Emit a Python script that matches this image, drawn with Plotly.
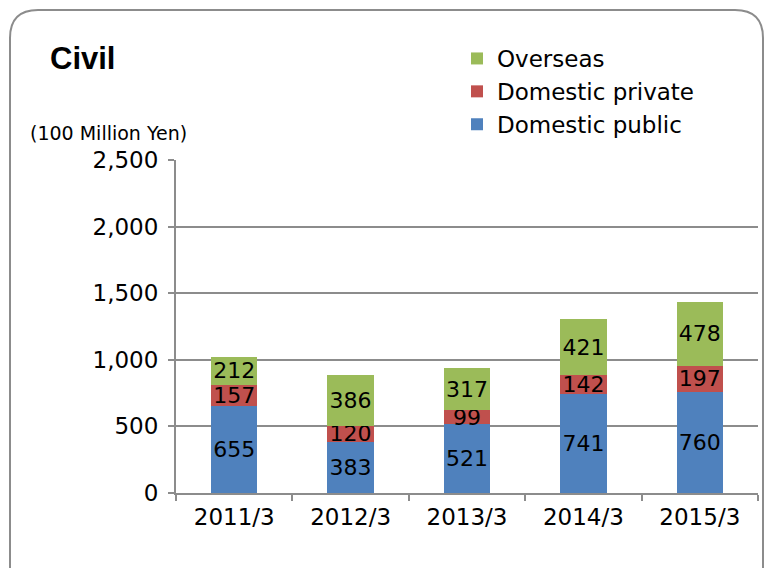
import plotly.graph_objects as go

categories = ["2011/3", "2012/3", "2013/3", "2014/3", "2015/3"]
domestic_public = [655, 383, 521, 741, 760]
domestic_private = [157, 120, 99, 142, 197]
overseas = [212, 386, 317, 421, 478]
y_ticks = [0, 500, 1000, 1500, 2000, 2500]
y_tick_labels = ["0", "500", "1,000", "1,500", "2,000", "2,500"]

W, H = 765, 568
L, R, T, B = 176, 7, 160, 75
PW, PH = W - L - R, H - T - B

def px(x):
    return (x - L) / PW

def py(y):
    return (H - B - y) / PH

label_font = dict(family="DejaVu Sans", size=22, color="black")

fig = go.Figure()
for name, vals, col in [
    ("Domestic public", domestic_public, "#4F81BD"),
    ("Domestic private", domestic_private, "#C0504D"),
    ("Overseas", overseas, "#9BBB59"),
]:
    fig.add_trace(go.Bar(
        x=categories, y=vals, name=name, marker=dict(color=col, line=dict(width=0)),
        text=vals, texttemplate="%{text}", textposition="inside",
        insidetextanchor="middle", textangle=0, textfont=label_font,
        constraintext="none",
    ))

# rounded border
x0, x1, y0, y1 = px(10), px(763), py(10), py(600)
rx = 28 / PW
ry = 28 / PH
path = (f"M {x0},{y1} L {x0},{y0 - ry} Q {x0},{y0} {x0 + rx},{y0} "
        f"L {x1 - rx},{y0} Q {x1},{y0} {x1},{y0 - ry} L {x1},{y1}")
fig.add_shape(type="path", path=path, xref="paper", yref="paper",
              line=dict(color="#8C8C8C", width=2), layer="below")

fig.add_annotation(text="<b>Civil</b>", xref="paper", yref="paper",
                   x=px(48), y=py(39), xanchor="left", yanchor="top",
                   showarrow=False, font=dict(family="Liberation Sans", size=31, color="black"))
fig.add_annotation(text="(100 Million Yen)", xref="paper", yref="paper",
                   x=px(28), y=py(120), xanchor="left", yanchor="top",
                   showarrow=False, font=dict(family="DejaVu Sans", size=19, color="black"))

fig.update_layout(
    width=W, height=H,
    margin=dict(l=L, r=R, t=T, b=B, autoexpand=False),
    barmode="stack", bargap=0.6,
    paper_bgcolor="white", plot_bgcolor="white",
    showlegend=True,
    legend=dict(traceorder="reversed", x=px(457), y=py(37), xanchor="left", yanchor="top",
                font=dict(family="DejaVu Sans", size=23, color="black"),
                bgcolor="rgba(0,0,0,0)", itemwidth=30, tracegroupgap=0),
    uniformtext=dict(mode="show", minsize=22),
    xaxis=dict(showline=True, linecolor="#8C8C8C", linewidth=2, ticks="outside",
               tickson="boundaries", ticklen=6, tickcolor="#8C8C8C", tickwidth=2,
               tickfont=dict(family="DejaVu Sans", size=23, color="black"),
               ticklabelstandoff=2),
    yaxis=dict(range=[0, 2500], tickvals=y_ticks, ticktext=y_tick_labels,
               showline=True, linecolor="#8C8C8C", linewidth=2, ticks="outside",
               ticklen=6, tickcolor="#8C8C8C", tickwidth=2,
               showgrid=True, gridcolor="#8C8C8C", gridwidth=1.5, zeroline=False,
               tickfont=dict(family="DejaVu Sans", size=23, color="black"),
               ticklabelstandoff=5),
)

fig.write_html("out.html", config={"displayModeBar": False},
               post_script="document.body.style.margin='0px';document.body.style.overflow='hidden';")
